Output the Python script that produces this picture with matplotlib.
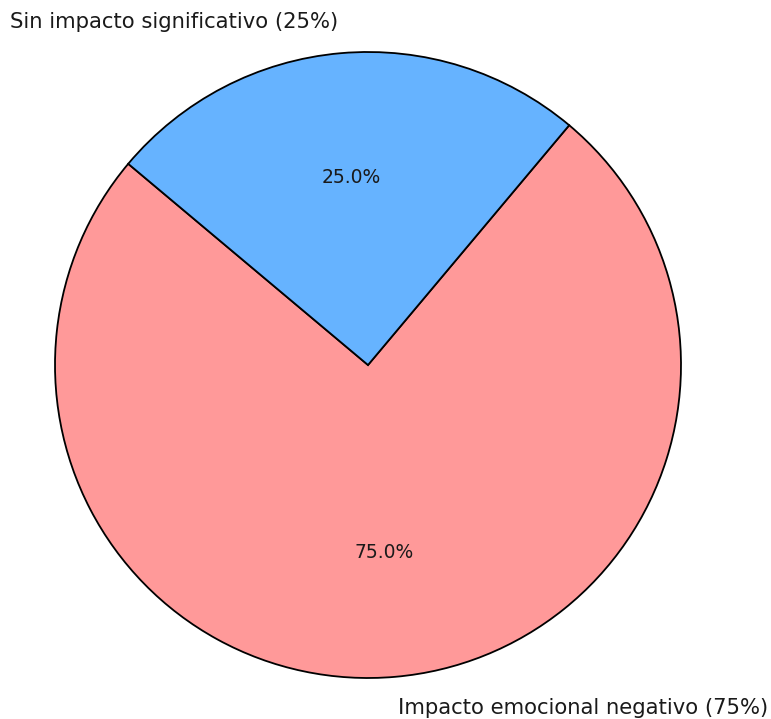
import matplotlib
matplotlib.use("Agg")
import matplotlib.pyplot as plt

labels = ["Impacto emocional negativo (75%)", "Sin impacto significativo (25%)"]
sizes = [75, 25]
colors = ["#ff9999", "#66b3ff"]

fig = plt.figure(figsize=(7.71, 7.19), dpi=100)
ax = fig.add_axes([0, 0, 1, 1])
wedges, texts, autotexts = ax.pie(
    sizes,
    labels=labels,
    colors=colors,
    autopct="%1.1f%%",
    startangle=140,
    wedgeprops={"edgecolor": "black", "linewidth": 1.3},
    textprops={"fontsize": 15.2, "color": "#1a1a1a"},
)
for t in autotexts:
    t.set_fontsize(13.5)
ax.set_xlim(-368 / 313, (771 - 368) / 313)
ax.set_ylim(-(719 - 365) / 313, 365 / 313)
ax.set_aspect("auto")
ax.axis("off")
fig.savefig("out.png", dpi=100)
